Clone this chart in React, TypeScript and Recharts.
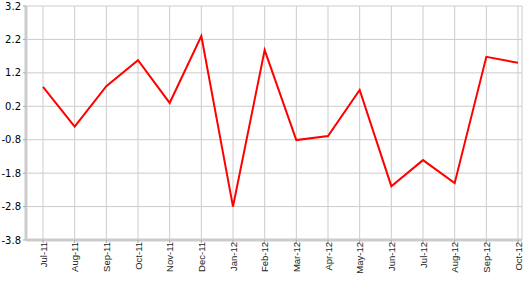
import { CartesianGrid, Line, LineChart, XAxis, YAxis } from 'recharts';

const MONTHS = [
  'Jul-11', 'Aug-11', 'Sep-11', 'Oct-11', 'Nov-11', 'Dec-11', 'Jan-12', 'Feb-12',
  'Mar-12', 'Apr-12', 'May-12', 'Jun-12', 'Jul-12', 'Aug-12', 'Sep-12', 'Oct-12',
];

const VALUES = [0.78, -0.41, 0.8, 1.58, 0.3, 2.3, -2.8, 1.88, -0.81, -0.69, 0.69, -2.19, -1.41, -2.1, 1.68, 1.5];

const Y_TICKS = [-3.8, -2.8, -1.8, -0.8, 0.2, 1.2, 2.2, 3.2];

const data = MONTHS.map((month, i) => ({ month, value: VALUES[i] }));

export default function App(): JSX.Element {
  return (
    <div style={{ position: 'absolute', left: 0, top: 0, background: '#fff' }}>
      <LineChart width={525} height={281} data={data} margin={{ top: 6, right: 3, bottom: 0, left: 0 }}>
        <CartesianGrid stroke="#cccccc" strokeWidth={1} />
        <XAxis
          dataKey="month"
          height={41}
          padding={{ left: 17, right: 4 }}
          interval={0}
          angle={-90}
          textAnchor="end"
          dy={-3}
          dx={-3}
          tickSize={3}
          stroke="#cccccc"
          strokeWidth={3}
          tick={{ fill: '#222', fontSize: 9.5, fontFamily: '"Liberation Sans", Arial, sans-serif' }}
          tickLine={{ stroke: '#aaaaaa', strokeWidth: 1 }}
        />
        <YAxis
          width={26}
          domain={[-3.8, 3.2]}
          ticks={Y_TICKS}
          interval={0}
          tickSize={3}
          stroke="#cccccc"
          strokeWidth={3}
          tick={{ fill: '#000', fontSize: 10, fontFamily: '"DejaVu Sans", Verdana, sans-serif' }}
          tickLine={{ stroke: '#aaaaaa', strokeWidth: 1 }}
        />
        <Line
          type="linear"
          dataKey="value"
          stroke="#ff0000"
          strokeWidth={2}
          dot={false}
          isAnimationActive={false}
        />
      </LineChart>
    </div>
  );
}
